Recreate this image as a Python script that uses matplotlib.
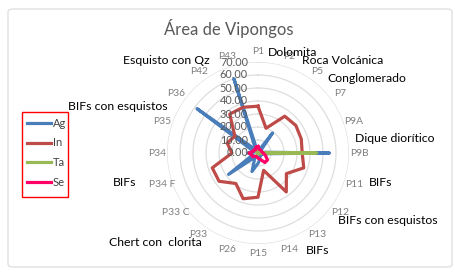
import numpy as np
import matplotlib
matplotlib.use("Agg")
import matplotlib.pyplot as plt
from matplotlib.patches import FancyBboxPatch, Rectangle
from matplotlib.lines import Line2D

plt.rcParams['font.family'] = ['Lato', 'DejaVu Sans']

categories = ['P1', 'P2', 'P5', 'P7', 'P9A', 'P9B', 'P11', 'P12', 'P13', 'P14',
              'P15', 'P26', 'P33', 'P33 C', 'P34 F', 'P34', 'P35', 'P36', 'P42', 'P43']
ag = [0, 2, 19, 2, 2, 55, 2, 3, 2, 5, 8, 15, 4, 28, 4, 8, 3, 58, 3, 60]
in_ = [36, 20, 35, 36, 35, 34, 37, 27, 37, 14, 34, 37, 29, 37, 37, 20, 25, 22, 37, 37]
ta = [2, 1, 1, 1, 1, 45, 1, 1, 1, 1, 1, 1, 1, 1, 1, 1, 1, 1, 1, 1]
se = [5, 3, 3, 3, 3, 4, 6, 9, 9, 5, 4, 3, 3, 5, 5, 7, 4, 4, 3, 5]
series_names = ['Ag', 'In', 'Ta', 'Se']
series_colors = ['#4A7EBB', '#BE4B48', '#98B954', '#FF0066']
rticks = [0, 10, 20, 30, 40, 50, 60, 70]
annotations = [
    ('Dolomita', 268, 52, 'left'),
    ('Roca Volcánica', 302, 61, 'left'),
    ('Conglomerado', 327, 79, 'left'),
    ('Dique diorítico', 355, 138, 'left'),
    ('BIFs', 369, 183, 'left'),
    ('BIFs con esquistos', 338, 220, 'left'),
    ('BIFs', 306, 250, 'left'),
    ('Chert con  clorita', 202, 242, 'right'),
    ('BIFs', 136, 183, 'right'),
    ('BIFs con esquistos', 168, 107, 'right'),
    ('Esquisto con Qz', 210, 61, 'right'),
]

W, H = 456, 279
fig = plt.figure(figsize=(W / 100, H / 100), dpi=100)

def fx(px):
    return px / W

def fy(py):
    return 1 - py / H

# chart border
fig.patches.append(FancyBboxPatch((fx(8), fy(267)), fx(444), 258 / H,
                                  boxstyle="round,pad=0,rounding_size=0.01",
                                  transform=fig.transFigure, fill=False,
                                  edgecolor='#D9D9D9', linewidth=0.8))

cx, cy, R = 258, 153, 91
ax = fig.add_axes([fx(cx - R), fy(cy + R), 2 * R / W, 2 * R / H], projection='polar')
ax.set_theta_zero_location('N')
ax.set_theta_direction(-1)
ax.set_ylim(0, 70)
ax.grid(False)
ax.set_xticks([])
ax.set_yticks([])
ax.spines['polar'].set_visible(False)
ax.patch.set_alpha(0)

n = len(categories)
theta = np.arange(n) * 2 * np.pi / n
theta_c = np.append(theta, theta[0])
circ = np.linspace(0, 2 * np.pi, 200)

for r in rticks[1:]:
    ax.plot(circ, [r] * len(circ), color='#DEDEDE', lw=0.9, zorder=1)

for vals, c in zip([ag, in_, ta, se], series_colors):
    v = np.append(vals, vals[0])
    ax.plot(theta_c, v, color=c, lw=2.3, zorder=3, solid_joinstyle='round')

for r in rticks:
    ax.annotate(f'{r:.2f}', xy=(0, r), xytext=(-10, 0), textcoords='offset pixels',
                ha='right', va='center', fontsize=7.8, color='#595959', zorder=4,
                annotation_clip=False)

for t, lab in zip(theta, categories):
    ax.text(t, 70 * 101 / 91, lab, ha='center', va='center', fontsize=7.4,
            color='#7F7F7F', clip_on=False)

fig.text(fx(229), fy(29), 'Área de Vipongos', ha='center', va='center',
         fontsize=12, color='#595959')

for txt, x, y, ha in annotations:
    fig.text(fx(x), fy(y), txt, ha=ha, va='center', fontsize=8.8, color='black')

# legend
fig.patches.append(Rectangle((fx(22), fy(197)), fx(46), 85 / H, transform=fig.transFigure,
                             fill=False, edgecolor='#FF0000', linewidth=1.0))
for i, (name, c) in enumerate(zip(series_names, series_colors)):
    yy = 123 + i * 19.7
    fig.lines.append(Line2D([fx(27), fx(51)], [fy(yy), fy(yy)], transform=fig.transFigure,
                            color=c, lw=2.3))
    fig.text(fx(53), fy(yy), name, ha='left', va='center', fontsize=8, color='#404040')

fig.savefig('out.png', dpi=100)
